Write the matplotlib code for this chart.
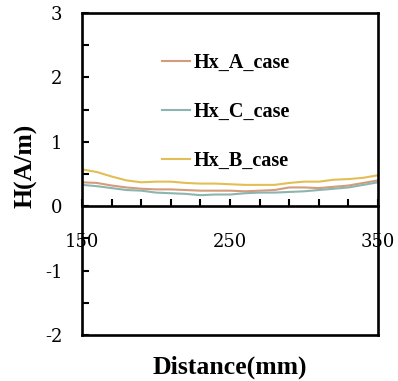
import matplotlib
matplotlib.use("Agg")
import matplotlib.pyplot as plt
from matplotlib.ticker import FixedLocator

# 距離 [mm]
distance = [150, 160, 170, 180, 190, 200, 210, 220, 230, 240, 250,
            260, 270, 280, 290, 300, 310, 320, 330, 340, 350]

# 磁界 H [A/m]
hx_a = [0.37, 0.36, 0.32, 0.29, 0.27, 0.26, 0.26, 0.25, 0.24, 0.24, 0.24,
        0.23, 0.24, 0.25, 0.29, 0.29, 0.28, 0.30, 0.32, 0.36, 0.40]
hx_c = [0.33, 0.31, 0.28, 0.25, 0.24, 0.21, 0.20, 0.19, 0.17, 0.18, 0.18,
        0.20, 0.21, 0.21, 0.22, 0.23, 0.25, 0.27, 0.29, 0.33, 0.37]
hx_b = [0.57, 0.53, 0.46, 0.40, 0.37, 0.38, 0.38, 0.36, 0.35, 0.35, 0.34,
        0.33, 0.33, 0.33, 0.36, 0.38, 0.38, 0.41, 0.42, 0.44, 0.48]

x_labels = [150, 250, 350]
y_labels = [-2, -1, 0, 1, 2, 3]

plt.rcParams["font.family"] = ["Liberation Serif", "DejaVu Serif"]
plt.rcParams["axes.unicode_minus"] = False

fig = plt.figure(figsize=(3.98, 3.81), dpi=100)
ax = fig.add_axes([0.206, 0.121, 0.744, 0.845])

ax.plot(distance, hx_a, color="#d49c7a", lw=1.5, label="Hx_A_case")
ax.plot(distance, hx_c, color="#8db5b0", lw=1.5, label="Hx_C_case")
ax.plot(distance, hx_b, color="#e2bf55", lw=1.5, label="Hx_B_case")

ax.set_xlim(150, 350)
ax.set_ylim(-2, 3)

# x軸は y=0 の位置に
ax.spines["bottom"].set_position(("data", 0))
for s in ax.spines.values():
    s.set_linewidth(1.9)
ax.axhline(-2, color="black", lw=1.9, clip_on=False)

ax.xaxis.set_major_locator(FixedLocator(x_labels))
ax.xaxis.set_minor_locator(FixedLocator(list(range(150, 351, 20))))
ax.yaxis.set_major_locator(FixedLocator(y_labels))
ax.yaxis.set_minor_locator(FixedLocator([-1.5, -0.5, 0.5, 1.5, 2.5]))
ax.tick_params(axis="x", which="both", direction="in", top=False, length=5, width=1.5,
               labelsize=13, pad=19)
ax.tick_params(axis="y", which="both", direction="in", right=False, length=5, width=1.5,
               labelsize=13, pad=14)
for t in ax.get_xticklabels() + ax.get_yticklabels():
    t.set_family("DejaVu Serif")

ax.set_xlabel("Distance(mm)", fontsize=18.5, fontweight="bold")
ax.xaxis.set_label_coords(0.5, -0.065)
ax.set_ylabel("H(A/m)", fontsize=18.5, fontweight="bold")
ax.yaxis.set_label_coords(-0.15, 0.525)

ax.legend(loc="center left", bbox_to_anchor=(0.21, 0.693), frameon=False,
          prop={"weight": "bold", "size": 14.5}, labelspacing=1.45,
          handlelength=1.4, handletextpad=0.15)

fig.savefig("out.png", dpi=100)
